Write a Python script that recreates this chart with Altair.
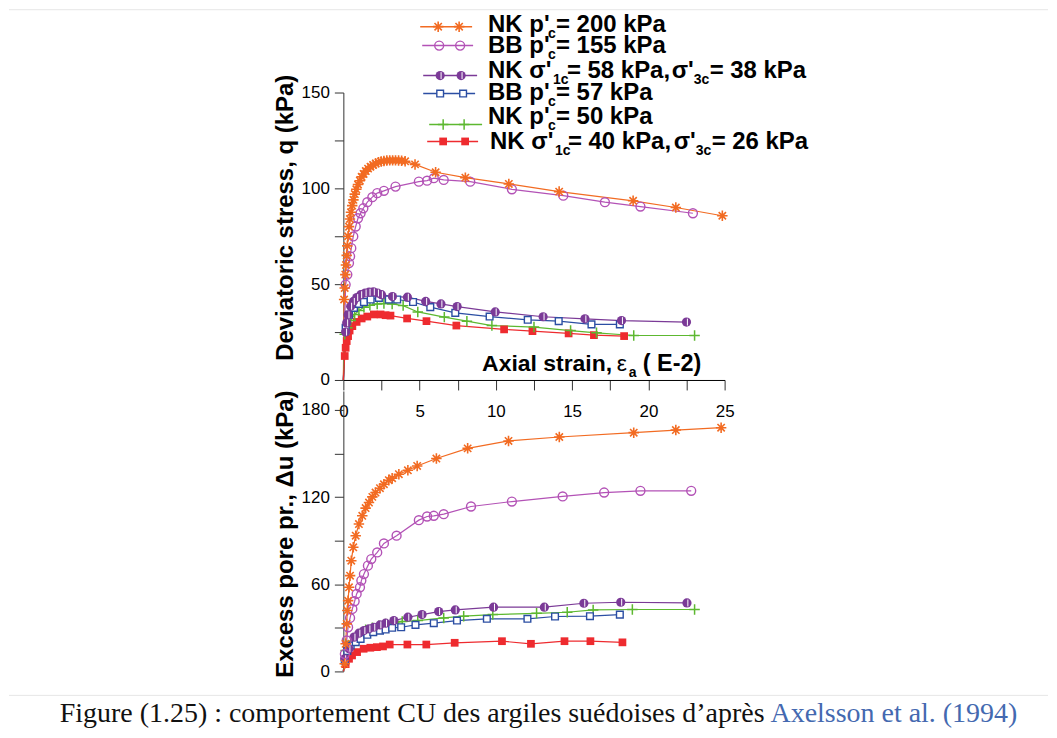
import altair as alt
import pandas as pd

# ---------------- layout anchors (page pixels of plot corners) ----------------
X0, YT, YB = 343, 91, 390

# ---------------- series ----------------
series = ["NK200", "BB155", "NK58", "BB57", "NK50", "NK40"]
colors = ["#f26b22", "#b352b6", "#7b3a97", "#2b4ea3", "#5db830", "#ee2b2f"]

# ---- deviatoric stress q (kPa) vs axial strain (E-2) ----
NK200_q_eps = [0, 0.05, 0.09, 0.13, 0.17, 0.22, 0.26, 0.31, 0.37, 0.43, 0.5, 0.58, 0.66, 0.75, 0.85, 0.96,
               1.08, 1.2, 1.33, 1.47, 1.62, 1.78, 1.95, 2.12, 2.3, 2.48, 2.66, 2.85, 3.04, 3.23, 3.42, 3.62,
               3.82, 4.05, 4.7, 6.05, 8.0, 10.85, 14.15, 19.0, 21.8, 24.85]
NK200_q = [0, 42, 48, 55, 60, 65, 70, 75, 80, 84, 87.5, 91, 94, 97, 99.5, 102, 104, 106, 107.5, 109,
           110.3, 111.3, 112.2, 113, 113.6, 114, 114.3, 114.5, 114.6, 114.6, 114.6, 114.5, 114.4, 114.1,
           112.5, 108.4, 105.6, 102.3, 98.3, 93.5, 90, 85.7]
BB155_q_eps = [0, 0.15, 0.26, 0.37, 0.44, 0.52, 0.65, 0.81, 0.96, 1.13, 1.31, 1.57, 1.9, 2.22, 2.66, 3.42,
               4.95, 5.49, 5.93, 6.58, 8.32, 11.05, 14.42, 17.15, 19.48, 22.92]
BB155_q = [0, 49.8, 55, 61, 64.5, 68.8, 74.9, 80.1, 84.4, 87, 89.6, 92.8, 95.4, 97.5, 98.7, 100.9,
           103.5, 104, 105.3, 104.4, 103.5, 99.5, 96.2, 92.8, 90.5, 87]
NK58_q_eps = [0, 0.15, 0.22, 0.31, 0.48, 0.66, 0.88, 1.14, 1.43, 1.69, 1.97, 2.24, 2.5, 3.22, 4.2, 5.4,
              6.4, 7.46, 9.96, 13.1, 15.84, 18.24, 22.5]
NK58_q = [0, 25, 29.8, 34, 38.5, 41, 43, 44.5, 45.4, 45.8, 46, 45.4, 44.5, 43.5, 43.2, 41,
          39.7, 38.3, 35.5, 33, 31.9, 31, 30.2]
BB57_q_eps = [0, 0.15, 0.37, 0.7, 1.02, 1.35, 1.79, 2.33, 2.98, 3.53, 4.57, 5.7, 7.34, 9.59, 12.09,
              14.12, 16.27, 18.13]
BB57_q = [0, 27.2, 34, 37.6, 39.7, 40.7, 42, 42.8, 42, 42, 40.7, 38, 35, 33.1, 31.4, 30.7, 29, 29]
NK50_q_eps = [0, 0.09, 0.26, 0.48, 0.74, 1.02, 1.35, 1.74, 2.22, 2.66, 3.2, 3.92, 4.88, 6.62, 8.1, 9.74,
              12.5, 14.9, 16.6, 19.04, 23.03]
NK50_q = [0, 23.8, 27.2, 31, 34.2, 36.2, 38, 39, 39.7, 39.9, 39.7, 38.8, 35.5, 32.8, 30.7, 28.4,
          27.6, 25.8, 24.6, 23.2, 23.2]
NK40_q_eps = [0, 0.09, 0.15, 0.22, 0.31, 0.41, 0.59, 0.87, 1.2, 1.57, 2.0, 2.44, 2.77, 3.09, 4.18, 5.45,
              7.41, 10.54, 12.4, 14.77, 16.43, 18.41]
NK40_q = [0, 12.5, 16.8, 20.3, 22.9, 25.8, 28.1, 30.3, 32.1, 33.1, 34.2, 34.2, 33.8, 33.6, 32.1, 30.7,
          28.4, 26.4, 25.5, 24.3, 23.4, 22.9]

# ---- excess pore pressure du (kPa) vs axial strain (E-2) ----
NK200_u_eps = [0, 0.09, 0.15, 0.22, 0.26, 0.31, 0.37, 0.44, 0.52, 0.65, 0.81, 1.02, 1.24, 1.46, 1.68, 1.9,
               2.11, 2.4, 2.66, 2.98, 3.2, 3.64, 4.23, 4.84, 6.1, 8.15, 10.83, 14.16, 19.04, 21.8, 24.77]
NK200_u = [0, 5.3, 19, 32.7, 41.9, 48.7, 57.9, 65.9, 76.2, 85.4, 93.4, 101.4, 107.1, 112.4, 116.2, 120.1,
           123.1, 126.1, 128.8, 131.6, 133, 135.7, 138.4, 141.4, 146.5, 153.5, 158.6, 161.3, 164.3, 166.1, 167.7]
BB155_u_eps = [0, 0.1, 0.22, 0.31, 0.44, 0.59, 0.74, 0.87, 1.09, 1.18, 1.35, 1.61, 1.83, 2.22, 2.66, 3.49,
               4.95, 5.49, 5.93, 6.58, 8.37, 11.05, 14.38, 17.1, 19.48, 22.81]
BB155_u = [0, 12, 21.3, 30.4, 36.8, 43, 48.3, 53.3, 57.9, 62.5, 67, 72.8, 77.3, 81.9, 88.1, 93.4,
           104.1, 106.6, 107.1, 108.2, 113.5, 116.9, 120.4, 123.1, 124.3, 124.3]
NK58_u_eps = [0, 0.09, 0.37, 0.7, 1.02, 1.35, 1.68, 2.0, 2.4, 2.77, 3.31, 4.23, 5.16, 6.25, 7.34, 9.85,
              13.18, 15.77, 18.19, 22.53]
NK58_u = [0, 8.7, 15.6, 23.6, 26.3, 28.1, 29.3, 30.4, 32, 33.2, 35, 37.3, 39.1, 41.2, 42.3, 44.2,
          44.2, 46.9, 47.6, 47.1]
BB57_u_eps = [0, 0.09, 0.26, 0.48, 0.81, 1.13, 1.57, 1.96, 2.4, 2.77, 3.2, 3.79, 4.73, 5.93, 7.45, 9.41,
              12.07, 13.88, 16.17, 18.13]
BB57_u = [0, 7.6, 14, 17.8, 20.1, 22.4, 25.2, 27, 28.1, 28.8, 30, 30.4, 32, 33.2, 35, 36.2,
          36.2, 37.8, 38, 39.1]
NK50_u_eps = [0, 0.15, 0.48, 0.81, 1.13, 1.46, 1.9, 2.33, 2.77, 3.31, 3.86, 4.88, 6.58, 7.89, 9.8, 12.67,
              14.68, 16.38, 18.95, 23.03]
NK50_u = [0, 14.4, 20.8, 23.6, 26.3, 28.6, 30, 31.4, 32.7, 33.2, 34.3, 35, 36.8, 38, 39.1, 40,
          40.7, 42.3, 42.6, 42.6]
NK40_u_eps = [0, 0.15, 0.37, 0.57, 0.9, 1.33, 1.77, 2.2, 2.6, 3.04, 4.2, 5.44, 7.3, 10.4, 12.3, 14.5,
              16.2, 18.3]
NK40_u = [0, 5, 8.7, 11, 13.3, 15.6, 16.3, 16.7, 17.2, 18.5, 18.5, 18.5, 19.7, 20.8, 19, 20.8, 20.8, 20]

# ---- axis ticks ----
x_ticks = [0, 2.5, 5, 7.5, 10, 12.5, 15, 17.5, 20, 22.5, 25]
q_ticks = [0, 25, 50, 75, 100, 125, 150]
u_ticks = [0, 30, 60, 90, 120, 150, 180]

# ---- legend / annotation layout (page pixels) ----
leg_line_y = [25, 44, 74, 92, 123, 140]
leg_x1 = [420, 422, 423, 423, 429, 427]
leg_x2 = [472, 473, 477, 475, 482, 478]
leg_m1 = [438, 439, 440, 440, 443, 443]
leg_m2 = [459, 460, 461, 463, 464, 465]

FS, SUB = 24, 14
top_texts = [
    ("NK p'", 488, 30, FS, "bold"), ("c", 548, 36, SUB, "bold"), ("= 200 kPa", 556, 30, FS, "bold"),
    ("BB p'", 488, 51.5, FS, "bold"), ("c", 548, 57.5, SUB, "bold"), ("= 155 kPa", 556, 51.5, FS, "bold"),
    ("NK σ'", 488, 76, FS, "bold"), ("1c", 553, 82, SUB, "bold"), ("= 58 kPa,", 567, 76, FS, "bold"),
    ("σ'", 672, 76, FS, "bold"), ("3c", 694, 82, SUB, "bold"), ("= 38 kPa", 710, 76, FS, "bold"),
    ("BB p'", 488, 98, FS, "bold"), ("c", 548, 104, SUB, "bold"), ("= 57 kPa", 556, 98, FS, "bold"),
    ("NK p'", 488, 123, FS, "bold"), ("c", 548, 129, SUB, "bold"), ("= 50 kPa", 556, 123, FS, "bold"),
    ("NK σ'", 490, 148, FS, "bold"), ("1c", 555, 154, SUB, "bold"), ("= 40 kPa,", 568, 148, FS, "bold"),
    ("σ'", 674, 148, FS, "bold"), ("3c", 696, 154, SUB, "bold"), ("= 26 kPa", 712, 148, FS, "bold"),
    ("Axial strain,", 482, 370, 23, "bold"), ("ε", 617, 370, 23, "normal"),
    ("a", 629, 376, SUB, "bold"), ("( E-2)", 643, 370, 23.5, "bold"),
]
caption_black = "Figure (1.25) : comportement CU des argiles suédoises d’après"
caption_blue = "Axelsson et al. (1994)"

ASTER = "M0,-1L0,1M-1,0L1,0M-0.7,-0.7L0.7,0.7M-0.7,0.7L0.7,-0.7"
PLUS = "M-1,0L1,0M0,-1L0,1"
VLINE = "M0.2,-0.75L0.2,0.75"
cmap = dict(zip(series, colors))
marker_specs = {
    "NK200": [dict(shape=ASTER, filled=False, size=110, strokeWidth=1.6, color=cmap["NK200"])],
    "BB155": [dict(shape="circle", filled=False, size=80, strokeWidth=1.4, color=cmap["BB155"])],
    "NK58": [dict(shape="circle", filled=True, size=85, color=cmap["NK58"]),
             dict(shape=VLINE, filled=False, size=85, strokeWidth=1, color="white")],
    "BB57": [dict(shape="square", filled=True, fill="white", stroke=cmap["BB57"], size=45, strokeWidth=1.4)],
    "NK50": [dict(shape=PLUS, filled=False, size=110, strokeWidth=1.5, color=cmap["NK50"])],
    "NK40": [dict(shape="square", filled=True, size=60, color=cmap["NK40"])],
}

# ---------------- tables ----------------
def long_table(pairs):
    rows = []
    for s, (xs, ys) in zip(series, pairs):
        for i, (a, b) in enumerate(zip(xs, ys)):
            rows.append({"s": s, "i": i, "eps": a, "v": b})
    return pd.DataFrame(rows)

top_df = long_table([(NK200_q_eps, NK200_q), (BB155_q_eps, BB155_q), (NK58_q_eps, NK58_q),
                     (BB57_q_eps, BB57_q), (NK50_q_eps, NK50_q), (NK40_q_eps, NK40_q)])
bot_df = long_table([(NK200_u_eps, NK200_u), (BB155_u_eps, BB155_u), (NK58_u_eps, NK58_u),
                     (BB57_u_eps, BB57_u), (NK50_u_eps, NK50_u), (NK40_u_eps, NK40_u)])

leg_lines = pd.DataFrame({"s": series, "x1": [v - X0 for v in leg_x1], "x2": [v - X0 for v in leg_x2],
                          "y": [v - YT for v in leg_line_y]})
leg_marks = pd.DataFrame({"s": series * 2, "i": [1] * 12,
                          "px": [v - X0 for v in leg_m1] + [v - X0 for v in leg_m2],
                          "py": [v - YT for v in leg_line_y] * 2})
txt_df = pd.DataFrame([{"t": t, "x": x - X0, "y": y - YT, "fs": f, "w": w} for t, x, y, f, w in top_texts])
top_rule = pd.DataFrame({"x1": [8 - X0], "x2": [1049 - X0], "y": [8 - YT]})
bot_rule = pd.DataFrame({"x1": [8 - X0], "x2": [1049 - X0], "y": [695 - YB]})
cap_df = pd.DataFrame({"t": [caption_black, caption_blue], "x": [765 - X0, 771 - X0], "y": [722 - YB] * 2,
                       "al": ["right", "left"], "c": ["black", "blue"]})

color_scale = alt.Scale(domain=series, range=colors)

# ---------------- encodings ----------------
X_top = alt.X("eps:Q", scale=alt.Scale(domain=[0, 25], nice=False),
              axis=alt.Axis(values=x_ticks, labelExpr="datum.value % 5 == 0 ? datum.label : ''",
                            tickSize=10, labelPadding=22, labelBaseline="middle", title=None,
                            domainColor="black", tickColor="#333"))
Y_top = alt.Y("v:Q", scale=alt.Scale(domain=[0, 150], nice=False),
              axis=alt.Axis(values=q_ticks, labelExpr="datum.value % 50 == 0 ? datum.label : ''",
                            tickSize=9, labelPadding=5, title="Deviatoric stress, q (kPa)",
                            titleX=-51, titleY=125, titleAlign="center", titleBaseline="alphabetic",
                            titleAngle=270))
X_bot = alt.X("eps:Q", scale=alt.Scale(domain=[0, 25], nice=False), axis=None)
Y_bot = alt.Y("v:Q", scale=alt.Scale(domain=[0, 193], nice=False),
              axis=alt.Axis(values=u_ticks, labelExpr="datum.value % 60 == 0 ? datum.label : ''",
                            tickSize=9, labelPadding=5, title="Excess pore pr., Δu (kPa)",
                            titleX=-51, titleY=143, titleAlign="center", titleBaseline="alphabetic",
                            titleAngle=270))
PX = alt.X("px:Q", scale=None, axis=None)
PY = alt.Y("py:Q", scale=None, axis=None)


def data_lines(df, xe, ye):
    return alt.Chart(df).mark_line(strokeWidth=1.2).encode(
        x=xe, y=ye, color=alt.Color("s:N", scale=color_scale, legend=None), detail="s:N", order="i:Q")


def marker_layers(df, xe, ye):
    out = []
    for s in reversed(series):
        for spec in marker_specs[s]:
            out.append(alt.Chart(df).transform_filter(alt.datum.s == s).transform_filter(alt.datum.i > 0)
                       .mark_point(opacity=1, **spec).encode(x=xe, y=ye))
    return out


def rule_layer(df, color="#e6e6e6"):
    return alt.Chart(df).mark_rule(color=color, strokeWidth=1).encode(
        x=alt.X("x1:Q", scale=None, axis=None), x2="x2:Q", y=alt.Y("y:Q", scale=None, axis=None))


leg_rules = alt.Chart(leg_lines).mark_rule(strokeWidth=1.5).encode(
    x=alt.X("x1:Q", scale=None, axis=None), x2="x2:Q", y=alt.Y("y:Q", scale=None, axis=None),
    color=alt.Color("s:N", scale=color_scale, legend=None))

text_layers = []
for w in ["bold", "normal"]:
    text_layers.append(
        alt.Chart(txt_df).transform_filter(alt.datum.w == w)
        .mark_text(align="left", baseline="alphabetic", font="Liberation Sans", fontWeight=w, color="black")
        .encode(x=alt.X("x:Q", scale=None, axis=None), y=alt.Y("y:Q", scale=None, axis=None),
                text="t:N", size=alt.Size("fs:Q", scale=None, legend=None)))

cap_layers = []
for al, c, col in [("right", "black", "#111111"), ("left", "blue", "#4469b0")]:
    cap_layers.append(
        alt.Chart(cap_df).transform_filter(alt.datum.c == c)
        .mark_text(align=al, baseline="alphabetic", font="Liberation Serif", fontSize=28, color=col)
        .encode(x=alt.X("x:Q", scale=None, axis=None), y=alt.Y("y:Q", scale=None, axis=None), text="t:N"))

top = alt.layer(
    rule_layer(top_rule),
    data_lines(top_df, X_top, Y_top),
    *marker_layers(top_df, X_top, Y_top),
    leg_rules,
    *marker_layers(leg_marks, PX, PY),
    *text_layers,
).properties(width=382, height=288)

bottom = alt.layer(
    data_lines(bot_df, X_bot, Y_bot),
    *marker_layers(bot_df, X_bot, Y_bot),
    rule_layer(bot_rule),
    *cap_layers,
).properties(width=382, height=281)

chart = alt.vconcat(top, bottom, spacing=11, bounds="flush").properties(
    padding={"left": 0, "top": 0, "right": 0, "bottom": 0}
).configure_view(stroke=None).configure_axis(
    labelFont="Liberation Sans", labelFontSize=17, labelColor="black",
    titleFont="Liberation Sans", titleFontSize=24, titleFontWeight="bold", titleColor="black",
    domainColor="#333", tickColor="#333", grid=False, labelFlush=False, labelOverlap=False
)

chart.save("out.html", embed_options={"renderer": "svg", "actions": False})
